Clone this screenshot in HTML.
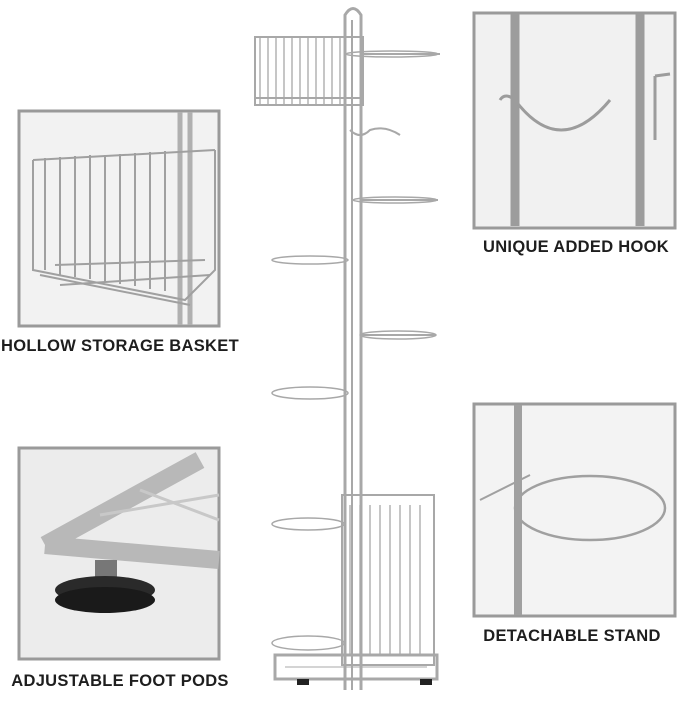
<!DOCTYPE html>
<html><head><meta charset="utf-8"><style>
html,body{margin:0;padding:0;background:#fff;}
svg{display:block}
text{font-family:"Liberation Sans",sans-serif;font-weight:bold;fill:#1e1e1e;font-size:16.5px;letter-spacing:0.3px}
</style></head><body>
<svg width="679" height="704" viewBox="0 0 679 704" xmlns="http://www.w3.org/2000/svg">
<rect width="679" height="704" fill="#fff"/>
<g stroke="#a8a8a8" fill="none" stroke-width="3">
<path d="M345 690 V15 Q353 2 361 15 V690"/>
<line x1="352" y1="20" x2="352" y2="690" stroke-width="2"/>
<rect x="255" y="37" width="108" height="68" stroke-width="2"/>
<line x1="255" y1="98" x2="363" y2="98" stroke-width="2"/>
<path d="M260 38v66M268 38v66M276 38v66M284 38v66M292 38v66M300 38v66M308 38v66M316 38v66M324 38v66M332 38v66M340 38v66" stroke-width="1.3"/>
<path d="M361 54 H440" stroke-width="2"/>
<path d="M350 130 Q360 140 370 130 Q385 125 400 135" stroke-width="2"/>
<path d="M361 200 H438" stroke-width="2"/>
<path d="M361 335 H436" stroke-width="2"/>
<ellipse cx="392" cy="54" rx="46" ry="3" stroke-width="1.5"/>
<ellipse cx="395" cy="200" rx="42" ry="3" stroke-width="1.5"/>
<ellipse cx="398" cy="335" rx="38" ry="4" stroke-width="1.5"/>
<ellipse cx="310" cy="260" rx="38" ry="4" stroke-width="1.5"/>
<ellipse cx="310" cy="393" rx="38" ry="6" stroke-width="1.5"/>
<ellipse cx="308" cy="524" rx="36" ry="6" stroke-width="1.5"/>
<ellipse cx="308" cy="643" rx="36" ry="7" stroke-width="1.5"/>
<rect x="342" y="495" width="92" height="170" stroke-width="2"/>
<path d="M350 505v150M360 505v150M370 505v150M380 505v150M390 505v150M400 505v150M410 505v150M420 505v150" stroke-width="1.3"/>
<rect x="275" y="655" width="162" height="24" stroke-width="3"/>
<path d="M285 667H427" stroke-width="1"/>
</g>
<rect x="297" y="679" width="12" height="6" fill="#222"/>
<rect x="420" y="679" width="12" height="6" fill="#222"/>
<g stroke="#9a9a9a" stroke-width="3">
<rect x="19" y="111" width="200" height="215" fill="#f2f2f2"/>
<rect x="19" y="448" width="200" height="211" fill="#ececec"/>
<rect x="474" y="13" width="201" height="215" fill="#f1f1f1"/>
<rect x="474" y="404" width="201" height="212" fill="#f3f3f3"/>
</g>
<g stroke="#a0a0a0" fill="none" stroke-width="2">
<path d="M190 112 V325 M180 112 V325" stroke-width="5" stroke="#b0b0b0"/>
<path d="M33 160 L215 150 M33 160 L33 270 L185 300 L215 270 V150"/>
<path d="M45 158v112M60 157v118M75 156v121M90 155v124M105 155v127M120 154v130M135 153v133M150 152v137M165 151v140"/>
<path d="M40 275 L190 305 M55 265 L205 260 M60 285 L210 275"/>
</g>
<g fill="none">
<path d="M45 545 L200 460 M45 545 L219 560" stroke="#b8b8b8" stroke-width="18"/>
<path d="M100 515 L219 495 M140 490 L219 520" stroke="#c8c8c8" stroke-width="3"/>
</g>
<rect x="95" y="560" width="22" height="22" fill="#777"/>
<ellipse cx="105" cy="590" rx="50" ry="14" fill="#2a2a2a"/>
<ellipse cx="105" cy="600" rx="50" ry="13" fill="#1a1a1a"/>
<g fill="none" stroke="#9c9c9c">
<path d="M515 14 V226 M640 14 V226" stroke-width="9"/>
<path d="M500 100 Q505 92 515 100 Q560 160 610 100" stroke-width="3"/>
<path d="M655 76 L670 74 M655 76 V140" stroke-width="3"/>
</g>
<g fill="none" stroke="#a0a0a0">
<path d="M518 405 V615" stroke-width="8"/>
<path d="M480 500 L530 475" stroke-width="2"/>
<ellipse cx="590" cy="508" rx="75" ry="32" stroke-width="2.5"/>
</g>
<text x="120" y="351" text-anchor="middle">HOLLOW STORAGE BASKET</text>
<text x="120" y="686" text-anchor="middle">ADJUSTABLE FOOT PODS</text>
<text x="576" y="252" text-anchor="middle">UNIQUE ADDED HOOK</text>
<text x="572" y="641" text-anchor="middle">DETACHABLE STAND</text>
</svg>
</body></html>
